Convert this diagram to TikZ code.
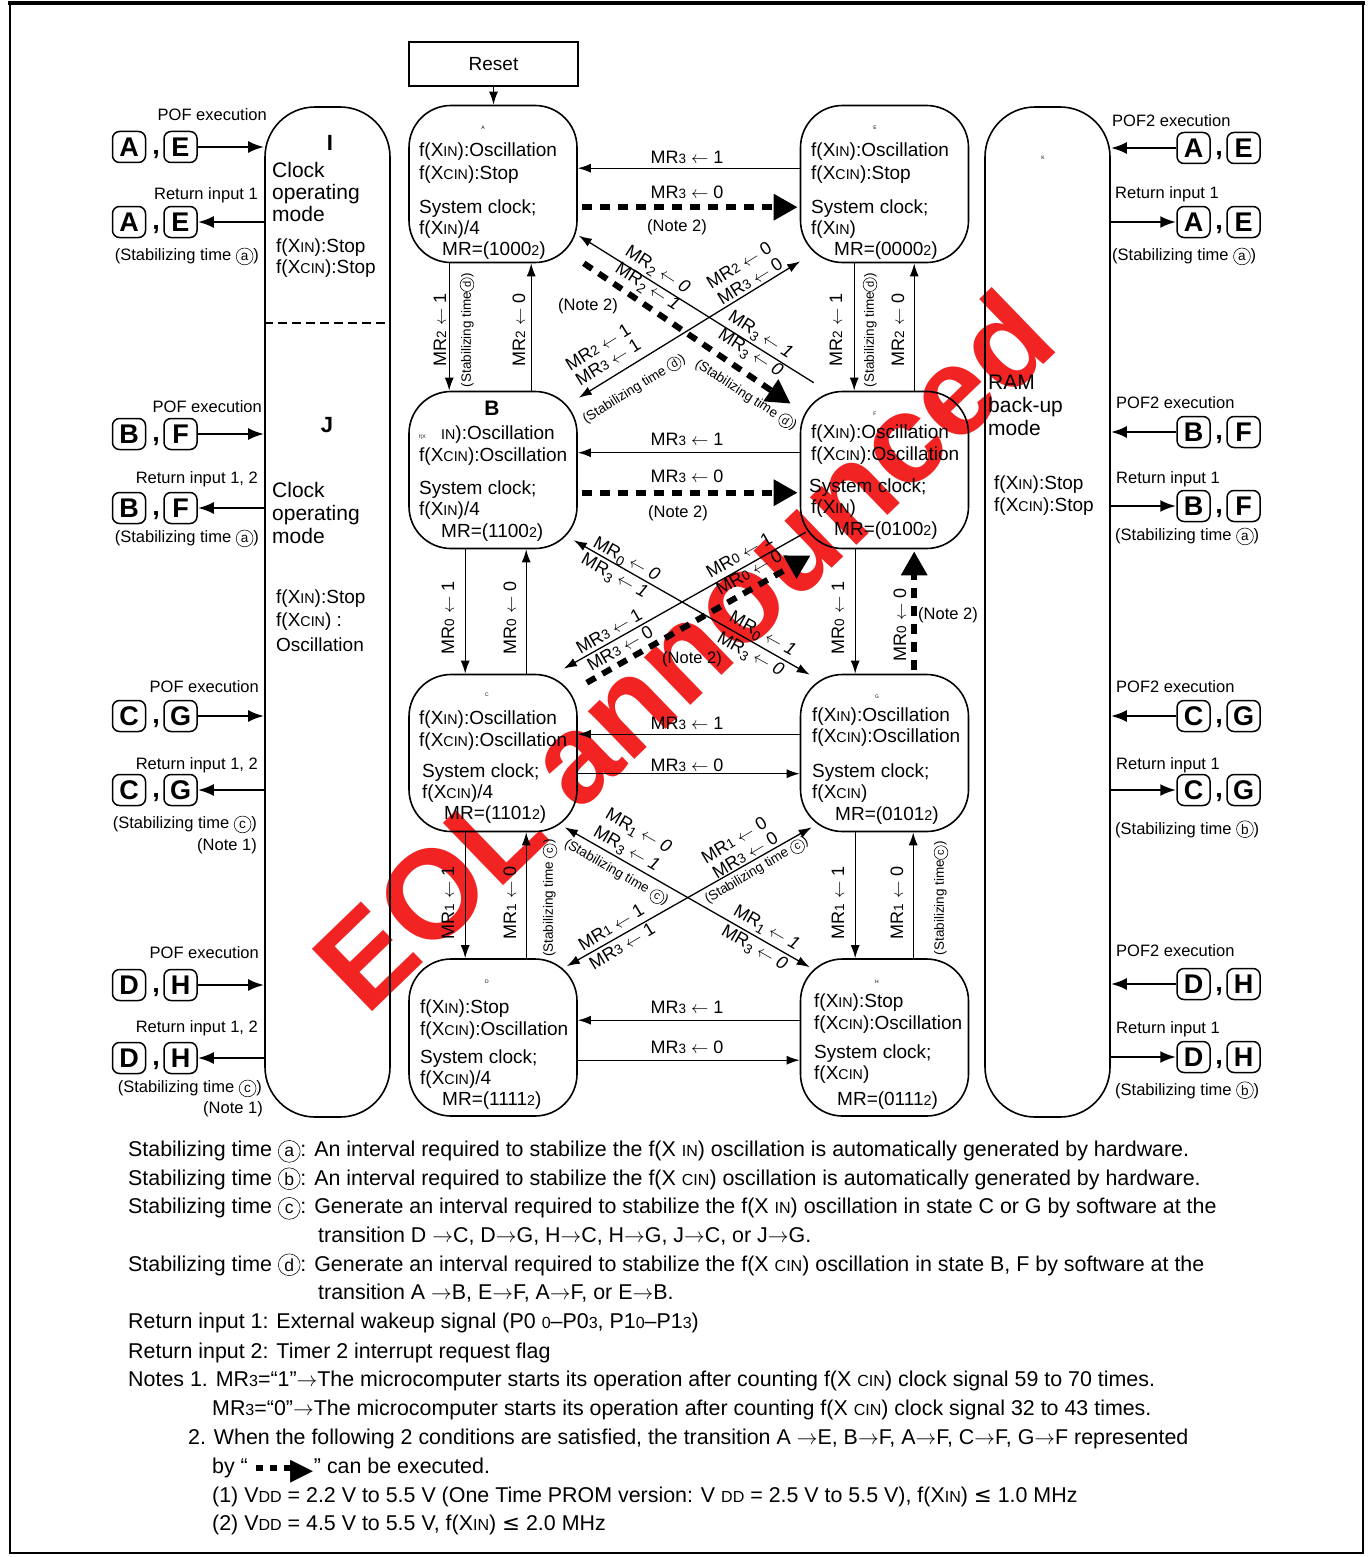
\documentclass[tikz,border=0pt]{standalone}
\usepackage{fontspec}
\setmainfont{Liberation Sans}
\newfontfamily\dejavu{DejaVu Sans}
\usetikzlibrary{arrows.meta,calc}
\makeatletter
\newcommand\sm[1]{{\fontsize{\fpeval{0.75*\f@size}}{0}\selectfont #1}}
\newcommand\smc[1]{{\fontsize{\fpeval{0.82*\f@size}}{0}\selectfont #1}}
\makeatother
\newcommand\sbl[1]{\raisebox{-0.22em}{\sm{#1}}}
\newcommand\cir[1]{\tikz[baseline=(cc.base)]\node[circle,draw,line width=0.55pt,inner sep=0.3pt,minimum size=1.02em,anchor=base](cc){\smc{#1}};}
\newcommand\la{$\leftarrow$}
\newcommand\ra{$\rightarrow$}
\newcounter{tn}
\newcommand\Txt[3][]{\stepcounter{tn}\node[txt,#1] (t\arabic{tn}) at (#2) {#3};}
\newcommand\lgrp[4]{%
  \node[lbox] (#1a) at (129,#2) {#3};
  \node[lbox] (#1b) at (180.5,#2) {#4};
  \node[comma] (#1c) at (156,#2+8) {,};}
\newcommand\rgrp[4]{%
  \node[lbox] (#1a) at (1193.5,#2) {#3};
  \node[lbox] (#1b) at (1243.5,#2) {#4};
  \node[comma] (#1c) at (1219,#2+8) {,};}
\definecolor{wmred}{RGB}{242,35,35}
\tikzset{
  txt/.style={inner sep=0, anchor=base west},
  st/.style={font=\fontsize{19}{22}\selectfont},
  sd/.style={font=\fontsize{16.5}{19}\selectfont},
  lb/.style={font=\fontsize{18}{20}\selectfont},
  sml/.style={font=\fontsize{13.5}{15}\selectfont},
  bt/.style={font=\fontsize{21.4}{24}\selectfont},
  mf/.style={font=\fontsize{21}{24}\selectfont},
  tiny/.style={font=\fontsize{5}{6}\selectfont, anchor=center},
  stbox/.style={draw, line width=1.6pt, rounded corners=42pt, minimum width=168pt, minimum height=157pt, inner sep=0},
  modebox/.style={draw, line width=1.6pt, rounded corners=50pt, minimum width=125pt, minimum height=1010pt, inner sep=0},
  lbox/.style={draw, line width=1.5pt, rounded corners=7pt, minimum width=33pt, minimum height=31pt, inner sep=0, font=\fontsize{27}{27}\selectfont\bfseries},
  comma/.style={inner sep=0, font=\fontsize{27}{27}\selectfont\bfseries},
  conn/.style={line width=1.3pt, -{Latex[length=13pt,width=9pt]}},
  bconn/.style={line width=1.3pt, {Latex[length=13pt,width=9pt]}-{Latex[length=13pt,width=9pt]}},
  dconn/.style={line width=6pt, dash pattern=on 10pt off 8pt, -{Triangle[length=24pt,width=25pt]}},
  sconn/.style={line width=2.6pt, -{Latex[length=16pt,width=12pt]}},
}
\begin{document}
\begin{tikzpicture}[x=1pt,y=-1pt]
\fill[white] (0,0) rectangle (1372,1557);
\useasboundingbox (0,0) rectangle (1372,1557);
\draw[line width=2pt] (10,4) rectangle (1363,1553);
\draw[line width=4.5pt] (8,3) -- (1365,3);

% Reset
\node[draw, line width=1.3pt, minimum width=169pt, minimum height=44pt, st] (Rst) at (493.5,64) {Reset};

% states
\node[stbox] (A) at (493,184) {};
\node[stbox] (E) at (884.5,184) {};
\node[stbox] (B) at (493,470) {};
\node[stbox] (F) at (884.5,470) {};
\node[stbox] (C) at (493,753) {};
\node[stbox] (G) at (884.5,753) {};
\node[stbox] (D) at (493,1037.5) {};
\node[stbox] (H) at (884.5,1037.5) {};

% mode boxes
\node[modebox] (IJ) at (327.5,612) {};
\node[modebox] (K) at (1047.5,612) {};
\draw[line width=1.5pt, dash pattern=on 9pt off 5pt] ($(IJ.north west)+(0,217)$) -- ($(IJ.north east)+(0,217)$);

% ---- state texts
\Txt[tiny]{483,128}{A}
\Txt[st]{419,157}{f(X\sm{IN}):Oscillation}
\Txt[st]{419,179}{f(X\sm{CIN}):Stop}
\Txt[st]{419,213}{System clock;}
\Txt[st]{419,234}{f(X\sm{IN})/4}
\Txt[st]{442,255}{MR=(1000\sm{2})}

\Txt[tiny]{875,128}{E}
\Txt[st]{811,157}{f(X\sm{IN}):Oscillation}
\Txt[st]{811,179}{f(X\sm{CIN}):Stop}
\Txt[st]{811,213}{System clock;}
\Txt[st]{811,234}{f(X\sm{IN})}
\Txt[st]{834,255}{MR=(0000\sm{2})}

\Txt[anchor=center, font=\fontsize{21}{24}\selectfont\bfseries]{492,408}{B}
\Txt[font=\fontsize{5}{6}\selectfont]{419,438}{f(X}
\Txt[st]{441,439}{\sm{IN}):Oscillation}
\Txt[st]{419,461}{f(X\sm{CIN}):Oscillation}
\Txt[st]{419,494}{System clock;}
\Txt[st]{419,515}{f(X\sm{IN})/4}
\Txt[st]{441,537}{MR=(1100\sm{2})}

\Txt[tiny]{875,414}{F}
\Txt[st]{811,438}{f(X\sm{IN}):Oscillation}
\Txt[st]{811,460}{f(X\sm{CIN}):Oscillation}
\Txt[st]{809,492}{System clock;}
\Txt[st]{811,513}{f(X\sm{IN})}
\Txt[st]{834,535}{MR=(0100\sm{2})}

\Txt[tiny]{487,695}{C}
\Txt[st]{419,724}{f(X\sm{IN}):Oscillation}
\Txt[st]{419,746}{f(X\sm{CIN}):Oscillation}
\Txt[st]{422,777}{System clock;}
\Txt[st]{422,798}{f(X\sm{CIN})/4}
\Txt[st]{444,819}{MR=(1101\sm{2})}

\Txt[tiny]{877,697}{G}
\Txt[st]{812,721}{f(X\sm{IN}):Oscillation}
\Txt[st]{812,742}{f(X\sm{CIN}):Oscillation}
\Txt[st]{812,777}{System clock;}
\Txt[st]{812,798}{f(X\sm{CIN})}
\Txt[st]{835,820}{MR=(0101\sm{2})}

\Txt[tiny]{487,982}{D}
\Txt[st]{420,1013}{f(X\sm{IN}):Stop}
\Txt[st]{420,1035}{f(X\sm{CIN}):Oscillation}
\Txt[st]{420,1063}{System clock;}
\Txt[st]{420,1084}{f(X\sm{CIN})/4}
\Txt[st]{442,1105}{MR=(1111\sm{2})}

\Txt[tiny]{877,982}{H}
\Txt[st]{814,1007}{f(X\sm{IN}):Stop}
\Txt[st]{814,1029}{f(X\sm{CIN}):Oscillation}
\Txt[st]{814,1058}{System clock;}
\Txt[st]{814,1079}{f(X\sm{CIN})}
\Txt[st]{837,1105}{MR=(0111\sm{2})}

% ---- mode texts
\Txt[anchor=center, font=\fontsize{22}{24}\selectfont\bfseries]{330,143}{I}
\Txt[mf]{272,178}{Clock}
\Txt[mf]{272,200}{operating}
\Txt[mf]{272,222}{mode}
\Txt[st]{276,252}{f(X\sm{IN}):Stop}
\Txt[st]{276,273}{f(X\sm{CIN}):Stop}

\Txt[anchor=center, font=\fontsize{22}{24}\selectfont\bfseries]{327,425}{J}
\Txt[mf]{272,497}{Clock}
\Txt[mf]{272,520}{operating}
\Txt[mf]{272,543}{mode}
\Txt[st]{276,603}{f(X\sm{IN}):Stop}
\Txt[st]{276,626}{f(X\sm{CIN}) :}
\Txt[st]{276,651}{Oscillation}

\Txt[tiny]{1043,158}{K}
\Txt[mf]{988,389}{RAM}
\Txt[mf]{988,412}{back-up}
\Txt[mf]{988,435}{mode}
\Txt[st]{994,489}{f(X\sm{IN}):Stop}
\Txt[st]{994,511}{f(X\sm{CIN}):Stop}

% ---- side groups left
\lgrp{la}{147}{A}{E}
\lgrp{lb}{222}{A}{E}
\lgrp{lc}{434}{B}{F}
\lgrp{ld}{508}{B}{F}
\lgrp{le}{716}{C}{G}
\lgrp{lf}{790}{C}{G}
\lgrp{lg}{985}{D}{H}
\lgrp{lh}{1058}{D}{H}
\draw[sconn] (lab.east) -- (lab.east -| IJ.west);
\draw[sconn] (lbb.east -| IJ.west) -- (lbb.east);
\draw[sconn] (lcb.east) -- (lcb.east -| IJ.west);
\draw[sconn] (ldb.east -| IJ.west) -- (ldb.east);
\draw[sconn] (leb.east) -- (leb.east -| IJ.west);
\draw[sconn] (lfb.east -| IJ.west) -- (lfb.east);
\draw[sconn] (lgb.east) -- (lgb.east -| IJ.west);
\draw[sconn] (lhb.east -| IJ.west) -- (lhb.east);

\Txt[sd, anchor=base east]{267,121}{POF execution}
\Txt[sd, anchor=base east]{258,200}{Return input 1}
\Txt[sd, anchor=base east]{259,260}{(Stabilizing time \cir{a})}
\Txt[sd, anchor=base east]{262,412}{POF execution}
\Txt[sd, anchor=base east]{258,483}{Return input 1, 2}
\Txt[sd, anchor=base east]{259,542}{(Stabilizing time \cir{a})}
\Txt[sd, anchor=base east]{259,692}{POF execution}
\Txt[sd, anchor=base east]{258,769}{Return input 1, 2}
\Txt[sd, anchor=base east]{257,828}{(Stabilizing time \cir{c})}
\Txt[sd, anchor=base east]{257,850}{(Note 1)}
\Txt[sd, anchor=base east]{259,958}{POF execution}
\Txt[sd, anchor=base east]{258,1032}{Return input 1, 2}
\Txt[sd, anchor=base east]{262,1092}{(Stabilizing time \cir{c})}
\Txt[sd, anchor=base east]{263,1113}{(Note 1)}

% ---- side groups right
\rgrp{ra}{148}{A}{E}
\rgrp{rb}{222}{A}{E}
\rgrp{rc}{432}{B}{F}
\rgrp{rd}{506}{B}{F}
\rgrp{re}{716}{C}{G}
\rgrp{rf}{790}{C}{G}
\rgrp{rg}{984}{D}{H}
\rgrp{rh}{1057}{D}{H}
\draw[sconn] (raa.west) -- (raa.west -| K.east);
\draw[sconn] (rba.west -| K.east) -- (rba.west);
\draw[sconn] (rca.west) -- (rca.west -| K.east);
\draw[sconn] (rda.west -| K.east) -- (rda.west);
\draw[sconn] (rea.west) -- (rea.west -| K.east);
\draw[sconn] (rfa.west -| K.east) -- (rfa.west);
\draw[sconn] (rga.west) -- (rga.west -| K.east);
\draw[sconn] (rha.west -| K.east) -- (rha.west);

\Txt[sd]{1112,127}{POF2 execution}
\Txt[sd]{1115,199}{Return input 1}
\Txt[sd]{1112,260}{(Stabilizing time \cir{a})}
\Txt[sd]{1116,408}{POF2 execution}
\Txt[sd]{1116,483}{Return input 1}
\Txt[sd]{1115,540}{(Stabilizing time \cir{a})}
\Txt[sd]{1116,692}{POF2 execution}
\Txt[sd]{1116,769}{Return input 1}
\Txt[sd]{1115,834}{(Stabilizing time \cir{b})}
\Txt[sd]{1116,956}{POF2 execution}
\Txt[sd]{1116,1033}{Return input 1}
\Txt[sd]{1115,1095}{(Stabilizing time \cir{b})}

% ---- connectors
\draw[conn] (Rst.south) -- (Rst.south |- A.north);
% row 1
\draw[conn] ($(E.north west)+(0,63.5)$) -- ($(A.north east)+(0,63.5)$);
\draw[dconn] ($(A.north east)+(4,102.5)$) -- ($(E.north west)+(-2,102.5)$);
\draw[conn] ($(A.south west)+(41,0)$) -- ($(B.north west)+(41,0)$);
\draw[conn] ($(B.north west)+(123,0)$) -- ($(A.south west)+(123,0)$);
\draw[conn] ($(E.south west)+(54.5,0)$) -- ($(F.north west)+(54.5,0)$);
\draw[conn] ($(F.north west)+(114.5,0)$) -- ($(E.south west)+(114.5,0)$);
\draw[conn] ($(F.north west)+(14,-8)$) -- ($(A.north east)+(1,131)$);
\draw[dconn] ($(A.south east)+(6,0)$) -- ($(F.north west)+(-9,13)$);
\draw[bconn] ($(B.north east)+(1,7)$) -- ($(E.south west)+(0.5,-2)$);
% row 2
\draw[conn] ($(F.north west)+(0,62)$) -- ($(B.north east)+(0,62)$);
\draw[dconn] ($(B.north east)+(4,102)$) -- ($(F.north west)+(-2,102)$);
\draw[conn] ($(B.south west)+(57,0)$) -- ($(C.north west)+(57,0)$);
\draw[conn] ($(C.north west)+(118,0)$) -- ($(B.south west)+(118,0)$);
\draw[conn] ($(F.south west)+(55.5,0)$) -- ($(G.north west)+(55.5,0)$);
\draw[dconn] ($(G.north west)+(114.5,-4)$) -- ($(F.south west)+(114.5,2)$);
\draw[bconn] ($(B.south east)+(-4,-9)$) -- ($(G.north west)+(10,1)$);
\draw[conn] ($(F.south west)+(6,-17)$) -- ($(C.north east)+(-14,-5)$);
\draw[dconn] ($(C.north east)+(9,9)$) -- ($(F.south west)+(11,6)$);
% row 3
\draw[conn] ($(G.north west)+(0,60.5)$) -- ($(C.north east)+(0,60.5)$);
\draw[conn] ($(C.north east)+(0,100)$) -- ($(G.north west)+(0,100)$);
\draw[conn] ($(C.south west)+(57,0)$) -- ($(D.north west)+(57,0)$);
\draw[conn] ($(D.north west)+(118,0)$) -- ($(C.south west)+(118,0)$);
\draw[conn] ($(G.south west)+(55.5,0)$) -- ($(H.north west)+(55.5,0)$);
\draw[conn] ($(H.north west)+(113.5,0)$) -- ($(G.south west)+(113.5,0)$);
\draw[bconn] ($(C.south east)+(-13,-5)$) -- ($(H.north west)+(10,9)$);
\draw[bconn] ($(G.south west)+(12,-5)$) -- ($(D.north east)+(-11,8)$);
% row 4
\draw[conn] ($(H.north west)+(0,62)$) -- ($(D.north east)+(0,62)$);
\draw[conn] ($(D.north east)+(0,102)$) -- ($(H.north west)+(0,102)$);

% ---- connector labels
\Txt[lb, anchor=center]{687,157}{MR\sm{3} \la{} 1}
\Txt[lb, anchor=center]{687,192}{MR\sm{3} \la{} 0}
\Txt[sd, anchor=center]{677,227}{(Note 2)}
\Txt[lb, anchor=center]{687,439}{MR\sm{3} \la{} 1}
\Txt[lb, anchor=center]{687,476}{MR\sm{3} \la{} 0}
\Txt[sd, anchor=center]{678,513}{(Note 2)}
\Txt[lb, anchor=center]{687,723}{MR\sm{3} \la{} 1}
\Txt[lb, anchor=center]{687,765}{MR\sm{3} \la{} 0}
\Txt[lb, anchor=center]{687,1007}{MR\sm{3} \la{} 1}
\Txt[lb, anchor=center]{687,1047}{MR\sm{3} \la{} 0}

\Txt[lb, anchor=center, rotate=90]{440,330}{MR\sm{2} \la{} 1}
\Txt[sml, anchor=center, rotate=90]{467,330}{(Stabilizing time\cir{d})}
\Txt[lb, anchor=center, rotate=90]{519,330}{MR\sm{2} \la{} 0}
\Txt[lb, anchor=center, rotate=90]{836,330}{MR\sm{2} \la{} 1}
\Txt[sml, anchor=center, rotate=90]{870,330}{(Stabilizing time\cir{d})}
\Txt[lb, anchor=center, rotate=90]{898,330}{MR\sm{2} \la{} 0}

\Txt[lb, anchor=center, rotate=90]{448,618}{MR\sm{0} \la{} 1}
\Txt[lb, anchor=center, rotate=90]{510,618}{MR\sm{0} \la{} 0}
\Txt[lb, anchor=center, rotate=90]{838,618}{MR\sm{0} \la{} 1}
\Txt[lb, anchor=center, rotate=90]{900,625}{MR\sm{0} \la{} 0}
\Txt[sd, anchor=center]{948,615}{(Note 2)}

\Txt[lb, anchor=center, rotate=90]{448,903}{MR\sm{1} \la{} 1}
\Txt[lb, anchor=center, rotate=90]{510,903}{MR\sm{1} \la{} 0}
\Txt[sml, anchor=center, rotate=90]{550,898}{(Stabilizing time \cir{c})}
\Txt[lb, anchor=center, rotate=90]{838,903}{MR\sm{1} \la{} 1}
\Txt[lb, anchor=center, rotate=90]{897,903}{MR\sm{1} \la{} 0}
\Txt[sml, anchor=center, rotate=90]{941,898}{(Stabilizing time\cir{c})}

% row 1 crossing
\Txt[lb, anchor=center, rotate=-33]{657,271}{MR\sbl{2} \la{} \textit{0}}
\Txt[lb, anchor=center, rotate=-33]{647,288}{MR\sbl{2} \la{} \textit{1}}
\Txt[lb, anchor=center, rotate=-33]{760,336}{MR\sbl{3} \la{} \textit{1}}
\Txt[lb, anchor=center, rotate=-33]{750,354}{MR\sbl{3} \la{} \textit{0}}
\Txt[sml, anchor=center, rotate=-33]{746,395}{(Stabilizing time \cir{d})}
\Txt[sd, anchor=center]{588,306}{(Note 2)}
\Txt[lb, anchor=center, rotate=32]{739,265}{MR\sm{2} \la{} 0}
\Txt[lb, anchor=center, rotate=32]{750,281}{MR\sm{3} \la{} 0}
\Txt[lb, anchor=center, rotate=32]{598,347}{MR\sm{2} \la{} 1}
\Txt[lb, anchor=center, rotate=32]{608,362}{MR\sm{3} \la{} 1}
\Txt[sml, anchor=center, rotate=32]{634,389}{(Stabilizing time \cir{d})}

% row 2 crossing
\Txt[lb, anchor=center, rotate=-29]{626,560}{MR\sbl{0} \la{} \textit{0}}
\Txt[lb, anchor=center, rotate=-29]{614,577}{MR\sbl{3} \la{} \textit{1}}
\Txt[lb, anchor=center, rotate=-29]{762,635}{MR\sbl{0} \la{} \textit{1}}
\Txt[lb, anchor=center, rotate=-29]{750,655}{MR\sbl{3} \la{} \textit{0}}
\Txt[lb, anchor=center, rotate=30]{739,555}{MR\sm{0} \la{} 1}
\Txt[lb, anchor=center, rotate=30]{749,572}{MR\sm{0} \la{} 0}
\Txt[lb, anchor=center, rotate=30]{609,631}{MR\sm{3} \la{} 1}
\Txt[lb, anchor=center, rotate=30]{620,648}{MR\sm{3} \la{} 0}
\Txt[sd, anchor=center]{692,659}{(Note 2)}

% row 3 crossing
\Txt[lb, anchor=center, rotate=-30]{638,832}{MR\sbl{1} \la{} \textit{0}}
\Txt[lb, anchor=center, rotate=-30]{626,850}{MR\sbl{3} \la{} \textit{1}}
\Txt[sml, anchor=center, rotate=-30]{616,873}{(Stabilizing time \cir{c})}
\Txt[lb, anchor=center, rotate=-30]{766,929}{MR\sbl{1} \la{} \textit{1}}
\Txt[lb, anchor=center, rotate=-30]{754,949}{MR\sbl{3} \la{} \textit{0}}
\Txt[lb, anchor=center, rotate=31]{734,840}{MR\sm{1} \la{} 0}
\Txt[lb, anchor=center, rotate=31]{745,855}{MR\sm{3} \la{} 0}
\Txt[sml, anchor=center, rotate=31]{757,871}{(Stabilizing time \cir{c})}
\Txt[lb, anchor=center, rotate=31]{611,927}{MR\sm{1} \la{} 1}
\Txt[lb, anchor=center, rotate=31]{622,946}{MR\sm{3} \la{} 1}

% ---- bottom text
\Txt[bt]{128,1156}{Stabilizing time \cir{a}: An interval required to stabilize the f(X \sm{IN}) oscillation is automatically generated by hardware.}
\Txt[bt]{128,1185}{Stabilizing time \cir{b}: An interval required to stabilize the f(X \sm{CIN}) oscillation is automatically generated by hardware.}
\Txt[bt]{128,1213}{Stabilizing time \cir{c}: Generate an interval required to stabilize the f(X \sm{IN}) oscillation in state C or G by software at the}
\Txt[bt]{318,1242}{transition D \ra C, D\ra G, H\ra C, H\ra G, J\ra C, or J\ra G.}
\Txt[bt]{128,1271}{Stabilizing time \cir{d}: Generate an interval required to stabilize the f(X \sm{CIN}) oscillation in state B, F by software at the}
\Txt[bt]{318,1299}{transition A \ra B, E\ra F, A\ra F, or E\ra B.}
\Txt[bt]{128,1328}{Return input 1: External wakeup signal (P0 \sm{0}–P0\sm{3}, P1\sm{0}–P1\sm{3})}
\Txt[bt]{128,1358}{Return input 2: Timer 2 interrupt request flag}
\Txt[bt]{128,1386}{Notes 1. MR\sm{3}=“1”\ra The microcomputer starts its operation after counting f(X \sm{CIN}) clock signal 59 to 70 times.}
\Txt[bt]{212,1415}{MR\sm{3}=“0”\ra The microcomputer starts its operation after counting f(X \sm{CIN}) clock signal 32 to 43 times.}
\Txt[bt]{188,1444}{2. When the following 2 conditions are satisfied, the transition A \ra E, B\ra F, A\ra F, C\ra F, G\ra F represented}
\Txt[bt]{212,1473}{by “\hspace{8pt}\rule[2pt]{7pt}{6pt}\hspace{7pt}\rule[2pt]{7pt}{6pt}\hspace{7pt}\rule[2pt]{7pt}{6pt}\raisebox{-6pt}{\dejavu\fontsize{30}{30}\selectfont ▶}” can be executed.}
\Txt[bt]{212,1502}{(1) V\sm{DD} = 2.2 V to 5.5 V (One Time PROM version: V \sm{DD} = 2.5 V to 5.5 V), f(X\sm{IN}) {\dejavu ≤} 1.0 MHz}
\Txt[bt]{212,1530}{(2) V\sm{DD} = 4.5 V to 5.5 V, f(X\sm{IN}) {\dejavu ≤} 2.0 MHz}

% ---- watermark
\begin{scope}[blend mode=multiply]
\node[rotate=44, text=wmred, font=\fontsize{126}{126}\selectfont\bfseries, inner sep=0] (wm) at (683,650) {EOL announced};
\end{scope}
\end{tikzpicture}
\end{document}
